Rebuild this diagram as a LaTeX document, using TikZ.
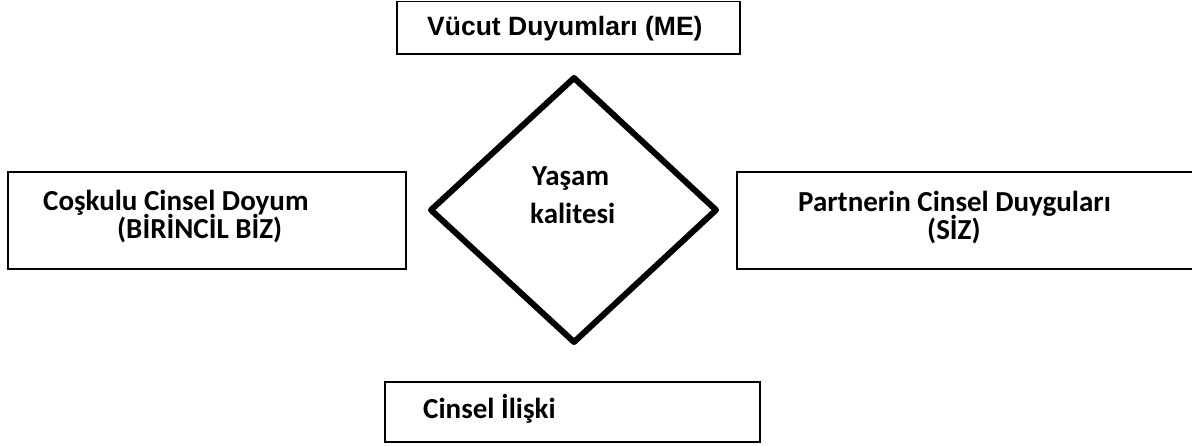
\documentclass[tikz,border=0pt]{standalone}
\usepackage{fontspec}
\setmainfont{Carlito}
\newfontfamily\arialbold{Liberation Sans}[BoldFont={* Bold}]
\begin{document}
\begin{tikzpicture}[x=1pt,y=-1pt,
  frame/.style={draw=black,line width=1.3pt},
  label/.style={anchor=base west,inner sep=0pt,font=\bfseries\fontsize{29}{30}\selectfont},
  toplabel/.style={anchor=base west,inner sep=0pt,font=\arialbold\bfseries\fontsize{26.5}{28}\selectfont}]
\useasboundingbox (0,0) rectangle (1192,445);
\begin{scope}
\clip (0,0) rectangle (1192,445);
% outer boxes
\draw[frame] (397,1.5) rectangle (740,54);
\draw[frame] (8,172) rectangle (406,269);
\draw[frame] (737,172) rectangle (1200,269);
\draw[frame] (385,382) rectangle (760,442);
\end{scope}
% central diamond
\draw[line width=6pt,line join=round]
  (574,78) -- (716,210) -- (574,342) -- (431,210) -- cycle;
% texts
\node[toplabel] (me) at (427,35) {Vücut Duyumları (ME)};
\node[label] (doyum) at (43,210) {Coşkulu Cinsel Doyum};
\node[label] (biz) at (117,238) {(BİRİNCİL BİZ)};
\node[label] (duygu) at (798,211) {Partnerin Cinsel Duyguları};
\node[label] (siz) at (927,239) {(SİZ)};
\node[label] (iliski) at (423,418) {Cinsel İlişki};
\node[label] (yasam) at (532,185) {Yaşam};
\node[label] (kalite) at (530,223) {kalitesi};
\end{tikzpicture}
\end{document}
